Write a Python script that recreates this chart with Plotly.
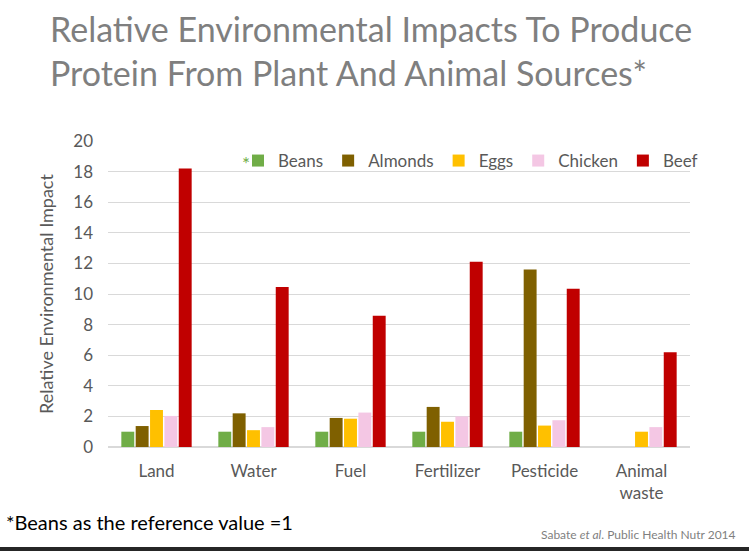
import plotly.graph_objects as go

categories = ["Land", "Water", "Fuel", "Fertilizer", "Pesticide", "Animal<br>waste"]
series_names = ["Beans", "Almonds", "Eggs", "Chicken", "Beef"]
beans = [1.0, 1.0, 1.0, 1.0, 1.0, None]
almonds = [1.37, 2.2, 1.9, 2.62, 11.6, None]
eggs = [2.42, 1.1, 1.85, 1.65, 1.4, 1.0]
chicken = [2.03, 1.3, 2.25, 2.0, 1.75, 1.3]
beef = [18.2, 10.45, 8.58, 12.1, 10.35, 6.2]
colors = ["#70AD47", "#7F6000", "#FFC000", "#F4C7E4", "#C00000"]
y_ticks = [0, 2, 4, 6, 8, 10, 12, 14, 16, 18, 20]

W, H = 749, 551
L, R, T, B = 108, 59, 141, 104
pw, ph = W - L - R, H - T - B

fig = go.Figure()
for name, vals, c in zip(series_names, [beans, almonds, eggs, chicken, beef], colors):
    fig.add_trace(go.Bar(x=categories, y=vals, name=name, marker_color=c, marker_line_width=0))

font = "Lato, 'Open Sans', sans-serif"
fig.update_layout(
    width=W, height=H,
    margin=dict(l=L, r=R, t=T, b=B),
    paper_bgcolor="white", plot_bgcolor="white",
    barmode="group", bargap=0.26, bargroupgap=0.1,
    font=dict(family=font, color="#595959"),
    showlegend=True,
    legend=dict(orientation="h", x=(238 - L) / pw, y=(H - B - 143) / ph, xanchor="left", yanchor="top",
                font=dict(size=17, color="#595959"), itemwidth=30, tracegroupgap=0,
                bgcolor="rgba(0,0,0,0)", itemsizing="constant"),
    xaxis=dict(showgrid=False, showline=False, ticks="", tickfont=dict(size=17, color="#595959"),
               zeroline=False, ticklabelstandoff=12),
    yaxis=dict(range=[0, 20], tickvals=y_ticks, showgrid=True, gridcolor="#D9D9D9", gridwidth=1,
               zeroline=True, zerolinecolor="#D9D9D9", showline=False, ticks="",
               tickfont=dict(size=17, color="#595959"), ticklabelstandoff=14,
               title=dict(text="Relative Environmental Impact", font=dict(size=18, color="#595959"),
                          standoff=14)),
)

fig.add_annotation(xref="paper", yref="paper", x=-L / pw + 48 / pw, y=1 + (T - 6) / ph,
                   xanchor="left", yanchor="top", align="left", showarrow=False,
                   text="Relative Environmental Impacts To Produce<br>Protein From Plant And Animal Sources*",
                   font=dict(size=34, color="#7F7F7F", family=font))
fig.add_annotation(xref="paper", yref="paper", x=(246 - L) / pw, y=(H - B - 163) / ph,
                   xanchor="center", yanchor="middle", showarrow=False, text="*",
                   font=dict(size=19, color="#70AD47", family=font))
fig.add_annotation(xref="paper", yref="paper", x=(4 - L) / pw, y=(H - B - 522) / ph,
                   xanchor="left", yanchor="middle", showarrow=False,
                   text="*Beans as the reference value =1",
                   font=dict(size=20, color="#000000", family=font))
fig.add_annotation(xref="paper", yref="paper", x=(738 - L) / pw, y=(H - B - 534) / ph,
                   xanchor="right", yanchor="middle", showarrow=False,
                   text="Sabate <i>et al</i>. Public Health Nutr 2014",
                   font=dict(size=12, color="#7F7F7F", family=font))
fig.add_shape(type="rect", xref="paper", yref="paper", x0=-L / pw, x1=(W - L) / pw,
              y0=(H - B - 551) / ph, y1=(H - B - 547) / ph, fillcolor="#262626", line_width=0)

fig.write_html("out.html")
